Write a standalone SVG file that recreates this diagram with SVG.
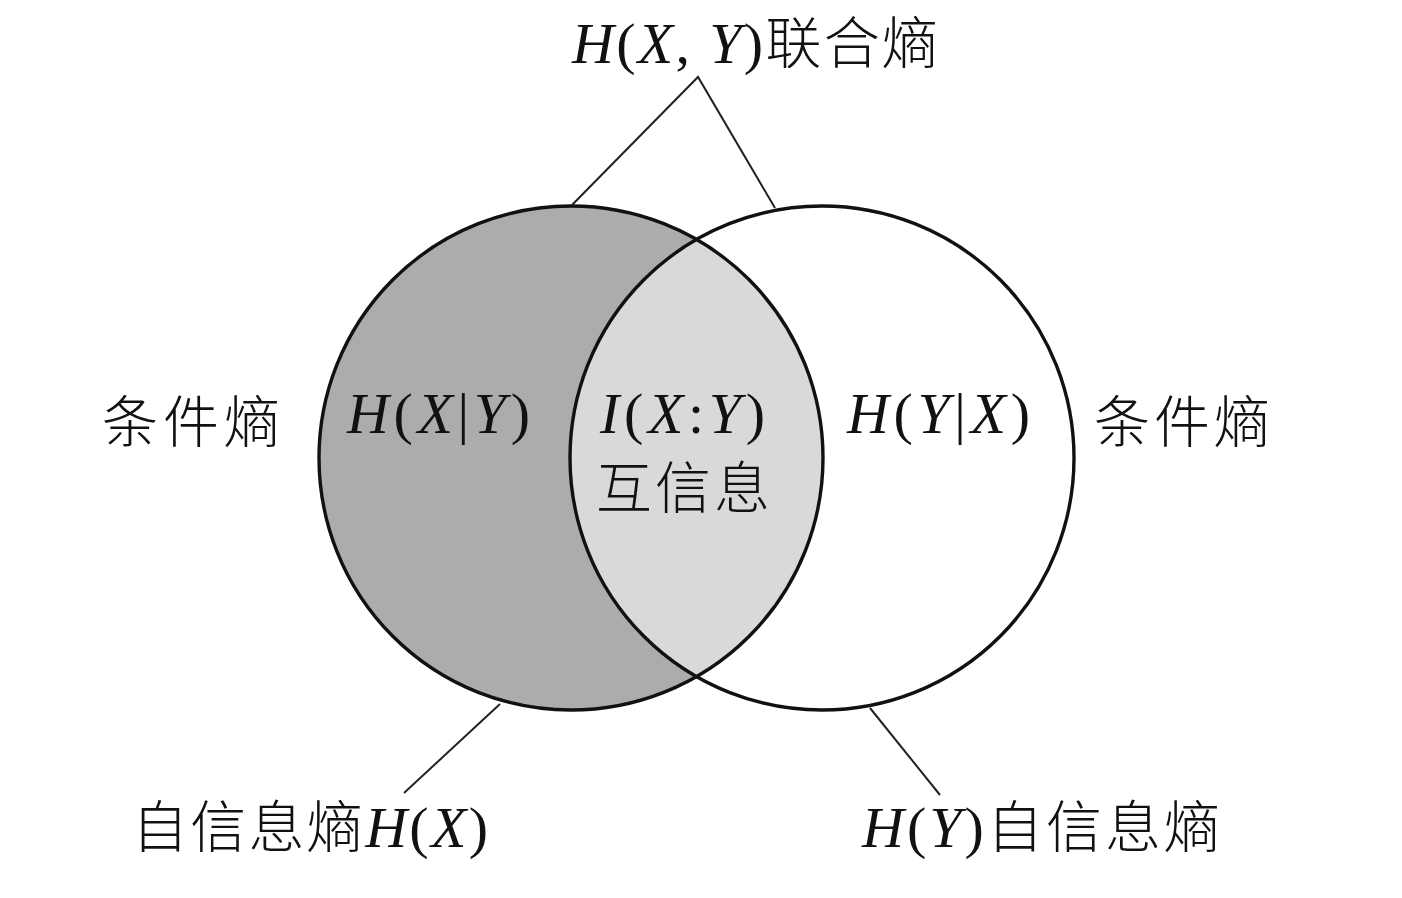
<svg xmlns="http://www.w3.org/2000/svg" width="1402" height="898" viewBox="0 0 1402 898">
<style>
text{font-family:"Liberation Serif","Noto Sans CJK SC",serif;font-size:58px;fill:#111}
.i{font-style:italic}
.c{font-family:"Noto Sans CJK SC","Noto Sans CJK JP",sans-serif;font-weight:300;font-size:56px}
.ln{stroke:#222;stroke-width:2;fill:none}
.ring{stroke:#111;stroke-width:3.4;fill:none}
</style>
<rect width="1402" height="898" fill="#fff"/>
<g id="venn">
<circle id="setX-fill" cx="571" cy="458" r="252" fill="#acacac"/>
<path id="intersection" d="M696.5 239.5 A252 252 0 0 1 696.5 676.5 A252 252 0 0 1 696.5 239.5 Z" fill="#d9d9d9"/>
<circle id="setX" class="ring" cx="571" cy="458" r="252"/>
<circle id="setY" class="ring" cx="822" cy="458" r="252"/>
</g>
<g id="connectors">
<polyline class="ln" points="572,205 698,77 775,208"/>
<line class="ln" x1="500" y1="704" x2="404" y2="793"/>
<line class="ln" x1="870" y1="708" x2="940" y2="795"/>
</g>
<g id="label-joint">
<text x="572" y="63" textLength="366" lengthAdjust="spacing"><tspan class="i">H</tspan>(<tspan class="i">X</tspan>, <tspan class="i">Y</tspan>)<tspan class="c">联合熵</tspan></text>
</g>
<g id="label-cond-left">
<text class="c" x="102" y="442" textLength="178" lengthAdjust="spacing">条件熵</text>
</g>
<g id="label-HXgY">
<text x="347" y="433" textLength="183" lengthAdjust="spacing"><tspan class="i">H</tspan>(<tspan class="i">X</tspan>|<tspan class="i">Y</tspan>)</text>
</g>
<g id="label-mutual">
<text x="600" y="433" textLength="165" lengthAdjust="spacing"><tspan class="i">I</tspan>(<tspan class="i">X</tspan>:<tspan class="i">Y</tspan>)</text>
<text class="c" x="596" y="508" textLength="174" lengthAdjust="spacing">互信息</text>
</g>
<g id="label-HYgX">
<text x="847" y="433" textLength="183" lengthAdjust="spacing"><tspan class="i">H</tspan>(<tspan class="i">Y</tspan>|<tspan class="i">X</tspan>)</text>
</g>
<g id="label-cond-right">
<text class="c" x="1094" y="442" textLength="176" lengthAdjust="spacing">条件熵</text>
</g>
<g id="label-HX">
<text x="132" y="847" textLength="356" lengthAdjust="spacing"><tspan class="c">自信息熵</tspan><tspan class="i">H</tspan>(<tspan class="i">X</tspan>)</text>
</g>
<g id="label-HY">
<text x="862" y="847" textLength="358" lengthAdjust="spacing"><tspan class="i">H</tspan>(<tspan class="i">Y</tspan>)<tspan class="c">自信息熵</tspan></text>
</g>
</svg>
